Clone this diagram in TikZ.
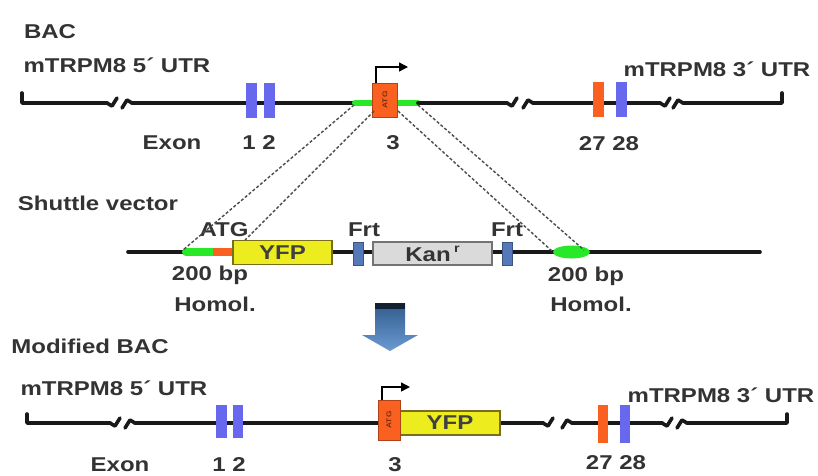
\documentclass[tikz,border=0pt]{standalone}
\usepackage{fontspec}
\setmainfont{Liberation Sans}[FakeStretch=1.2]
\usetikzlibrary{arrows.meta}
\definecolor{exblue}{RGB}{104,104,238}
\definecolor{exorange}{RGB}{250,96,32}
\definecolor{homgreen}{RGB}{40,232,40}
\definecolor{yfpyellow}{RGB}{236,236,30}
\definecolor{yfpedge}{RGB}{120,110,30}
\definecolor{frtblue}{RGB}{84,120,184}
\definecolor{kangray}{RGB}{218,218,218}
\definecolor{arrblue}{RGB}{70,130,200}
\newcommand{\brkleft}[2]{\draw[dna] ({#1-10},#2) -- ({#1-5},{#2+3}) -- ({#1},{#2-5});}
\newcommand{\brkright}[2]{\draw[dna] (#1,{#2+5}) -- ({#1+5},{#2-3}) -- ({#1+10},#2);}
\begin{document}
\begin{tikzpicture}[x=1pt,y=-1pt,
  lbl/.style={font=\bfseries\fontsize{20}{22}\selectfont, text=black!80, inner sep=0pt},
  dna/.style={line width=3.6pt, black!90, line cap=round, line join=round},
  hom/.style={line width=6pt, homgreen, line cap=round},
  exonbox/.style={draw=none, inner sep=0pt, minimum width=11pt, minimum height=35pt},
  ex3/.style={fill=exorange, draw=exorange!70!black, line width=0.4pt, inner sep=0pt, minimum width=25pt, minimum height=34pt},
  dash line/.style={line width=1.4pt, black!70, dash pattern=on 3pt off 2pt},
  tss/.style={line width=1.4pt, black, -{Triangle[length=9pt,width=9pt]}},
  yfpbox/.style={fill=yfpyellow, draw=yfpedge, line width=1.2pt, inner sep=0pt, minimum height=24pt, text=black!75, font=\bfseries\fontsize{20}{22}\selectfont},
  frtbox/.style={fill=frtblue, draw=frtblue!70!black, line width=0.6pt, inner sep=0pt, minimum width=10pt, minimum height=23pt},
  kanbox/.style={fill=kangray, draw=black!55, line width=1.2pt, inner sep=0pt, minimum height=23pt, font=\bfseries\fontsize{20}{22}\selectfont, text=black!80}
]
\useasboundingbox (0,0) rectangle (818,475);
\fill[white] (0,0) rectangle (818,475);

% ================= BAC =================
\node[lbl] (bac) at (50,32) {BAC};
\node[lbl] (utr5a) at (117,65) {mTRPM8 5´ UTR};
\node[lbl] (utr3a) at (717,69) {mTRPM8 3´ UTR};

\draw[dna] (22,93) -- (22,103) -- (107,103);
\brkleft{117}{103}
\brkright{122}{103}
\draw[dna] (132,103) -- (355,103);
\draw[hom] (355,103) -- (418,103);
\draw[dna] (418,103) -- (507,103);
\brkleft{517}{103}
\brkright{523}{103}
\draw[dna] (533,103) -- (660,103);
\brkleft{670}{103}
\brkright{673}{103}
\draw[dna] (683,103) -- (782,103) -- (782,93);

\node[exonbox, fill=exblue] (e1a) at (251,100) {};
\node[exonbox, fill=exblue] (e2a) at (269,100) {};
\node[exonbox, fill=exorange] (e27a) at (598,99) {};
\node[exonbox, fill=exblue] (e28a) at (621,99) {};
\node[ex3] (e3a) at (385,100) {};
\node[rotate=90, font=\bfseries\fontsize{7}{7}\selectfont, text=exorange!50!black] at (e3a) {ATG};
\draw[tss] (376,83) -- (376,67) -- (408,67);

\node[lbl] (exona) at (172,143) {Exon};
\node[lbl] (n12a) at (259,143) {1 2};
\node[lbl] (n3a) at (393,143) {3};
\node[lbl] (n2728a) at (609,144) {27 28};

% ================= Shuttle vector =================
\node[lbl] (shuttle) at (98,203) {Shuttle vector};
\draw[dna] (128,252) -- (760,252);
\draw[line width=8pt, homgreen, line cap=round] (186,252) -- (213,252);
\draw[line width=8pt, exorange] (213,252) -- (233,252);
\node[yfpbox, minimum width=99pt] (yfp) at (282.5,252.5) {YFP};
\node[frtbox] (frt1) at (358,253.5) {};
\node[kanbox, minimum width=119pt] (kan) at (432.5,253.5) {Kan\,\raisebox{0.45em}{\fontsize{12}{12}\selectfont r}};
\node[frtbox] (frt2) at (507.5,253.5) {};
\fill[homgreen] (571.5,252) ellipse (18.5pt and 6.5pt);
\node[lbl] (atg) at (224,230) {ATG};
\node[lbl] (frtl1) at (364,230) {Frt};
\node[lbl] (frtl2) at (507,230) {Frt};
\node[lbl] (bp1) at (210,275) {200 bp};
\node[lbl] (hom1) at (215,304) {Homol.};
\node[lbl] (bp2) at (586,276) {200 bp};
\node[lbl] (hom2) at (591,304) {Homol.};

% dashed homology lines
\draw[dash line] (354,105) -- (183,250);
\draw[dash line] (374,111) -- (245,240);
\draw[dash line] (398,111) -- (553,252);
\draw[dash line] (418,105) -- (584,250);

% ================= down arrow =================
\shade[top color=arrblue!70!black, bottom color=arrblue!80!white]
  (375,303) -- (405,303) -- (405,335) -- (418,335) -- (390,351) -- (362,335) -- (375,335) -- cycle;
\fill[black!75!arrblue] (375,303) rectangle (405,309);

% ================= Modified BAC =================
\node[lbl] (mbac) at (90,346) {Modified BAC};
\node[lbl] (utr5b) at (114,388) {mTRPM8 5´ UTR};
\node[lbl] (utr3b) at (721,395) {mTRPM8 3´ UTR};

\draw[dna] (27,414) -- (27,423) -- (110,423);
\brkleft{120}{423}
\brkright{125}{423}
\draw[dna] (135,423) -- (380,423);
\draw[dna] (500,423) -- (543,423);
\brkleft{553}{423}
\brkright{562}{423}
\draw[dna] (572,423) -- (662,423);
\brkleft{672}{423}
\brkright{677}{423}
\draw[dna] (687,423) -- (787,423) -- (787,414);

\node[exonbox, fill=exblue, minimum height=33pt] (e1b) at (221,421.5) {};
\node[exonbox, fill=exblue, minimum height=33pt, minimum width=10pt] (e2b) at (238,421.5) {};
\node[exonbox, fill=exorange, minimum width=10pt, minimum height=38pt] (e27b) at (603,424) {};
\node[exonbox, fill=exblue, minimum width=10pt, minimum height=38pt] (e28b) at (625,424) {};
\node[yfpbox, minimum width=100pt] (yfpb) at (450,423) {YFP};
\node[ex3, minimum width=22pt, minimum height=40pt] (e3b) at (389,420) {};
\node[rotate=90, font=\bfseries\fontsize{7}{7}\selectfont, text=exorange!50!black] at (e3b) {ATG};
\draw[tss] (382,400) -- (382,387) -- (410,387);

\node[lbl] (exonb) at (120,465) {Exon};
\node[lbl] (n12b) at (229,465) {1 2};
\node[lbl] (n3b) at (395,465) {3};
\node[lbl] (n2728b) at (616,463) {27 28};
\end{tikzpicture}
\end{document}
